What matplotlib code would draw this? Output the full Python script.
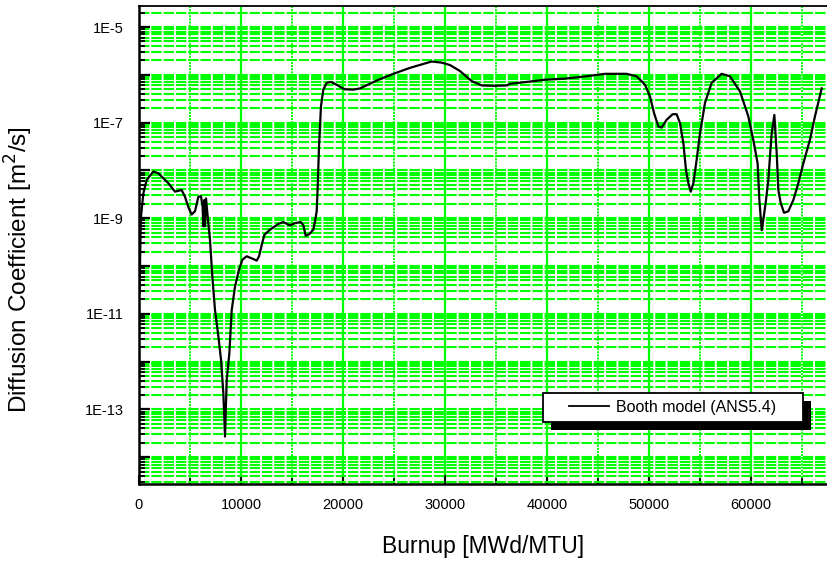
import matplotlib
matplotlib.use('Agg')
import matplotlib.pyplot as plt
from matplotlib.ticker import LogLocator, NullFormatter
from matplotlib.patches import Rectangle
import matplotlib.patheffects as pe

plt.rcParams['font.family'] = ['Liberation Sans', 'DejaVu Sans']

# ---- data ----
burnup = [50, 180, 425, 750, 1400, 1900, 2880, 3530, 4180, 4510, 4840, 5160, 5490,
          5820, 6080, 6240, 6310, 6400, 6470, 6570, 6730, 6960, 7190, 7450, 7780,
          8040, 8270, 8430, 8600, 8860, 9090, 9410, 9800, 10130, 10560, 11210,
          11540, 11770, 12030, 12290, 12840, 13660, 14150, 14800, 15290, 15850,
          16110, 16340, 16670, 17090, 17250, 17420, 17520, 17650, 17840, 18070,
          18400, 18820, 19380, 20130, 21010, 21670, 23300, 24940, 26570, 27710,
          28690, 29670, 30490, 31470, 32610, 33600, 34740, 36050, 36370, 38010,
          39800, 41700, 43800, 45690, 47800, 48790, 49610, 50100, 50490, 50920,
          51240, 51730, 52320, 52710, 53040, 53370, 53630, 53860, 54090, 54350,
          54670, 55000, 55490, 56140, 57120, 57940, 58920, 59740, 60290, 60650,
          60820, 61050, 61210, 61470, 61700, 61860, 62030, 62290, 62390, 62520,
          62680, 62910, 63240, 63660, 64150, 64640, 65130, 65780, 66270, 66930]
diffusion = [2.7e-11, 1.0e-9, 3.3e-9, 6.3e-9, 9.5e-9, 8.7e-9, 5.4e-9, 3.6e-9, 3.9e-9,
             2.8e-9, 1.7e-9, 1.2e-9, 1.4e-9, 2.8e-9, 2.9e-9, 1.7e-9, 6.8e-10, 2.4e-9,
             6.8e-10, 2.6e-9, 1.1e-9, 3.5e-10, 6.0e-11, 1.2e-11, 3.4e-12, 1.1e-12,
             2.2e-13, 2.7e-14, 4.2e-13, 1.5e-12, 1.2e-11, 3.7e-11, 8.3e-11, 1.35e-10,
             1.6e-10, 1.4e-10, 1.3e-10, 1.6e-10, 2.75e-10, 4.5e-10, 5.75e-10, 7.6e-10,
             8.3e-10, 7.1e-10, 7.9e-10, 8.3e-10, 7.2e-10, 4.3e-10, 4.6e-10, 5.75e-10,
             8.5e-10, 1.4e-9, 4.6e-9, 3.2e-8, 2.2e-7, 4.9e-7, 6.8e-7, 7.1e-7, 6.2e-7,
             5.0e-7, 4.9e-7, 5.2e-7, 7.6e-7, 1.05e-6, 1.4e-6, 1.65e-6, 1.9e-6, 1.8e-6,
             1.6e-6, 1.2e-6, 7.4e-7, 6.0e-7, 5.9e-7, 6.0e-7, 6.5e-7, 7.1e-7, 7.9e-7,
             8.3e-7, 9.3e-7, 1.05e-6, 1.05e-6, 9.3e-7, 6.2e-7, 3.5e-7, 1.6e-7, 8.3e-8,
             7.9e-8, 1.15e-7, 1.5e-7, 1.5e-7, 9.8e-8, 3.7e-8, 1.0e-8, 5.4e-9, 3.6e-9,
             5.4e-9, 1.65e-8, 6.0e-8, 2.6e-7, 6.8e-7, 1.05e-6, 9.3e-7, 4.5e-7, 1.35e-7,
             3.7e-8, 1.4e-8, 2.4e-9, 5.6e-10, 9.3e-10, 2.4e-9, 6.3e-9, 1.95e-8, 6.0e-8,
             1.45e-7, 6.5e-8, 2.3e-8, 3.9e-9, 2.1e-9, 1.3e-9, 1.4e-9, 2.4e-9, 5.4e-9,
             1.4e-8, 4.4e-8, 1.35e-7, 5.2e-7]

x_ticks = [0, 10000, 20000, 30000, 40000, 50000, 60000]
x_tick_labels = ['0', '10000', '20000', '30000', '40000', '50000', '60000']
y_major_exponents = [-14, -13, -12, -11, -10, -9, -8, -7, -6, -5]
y_tick_labels = ['', '1E-13', '', '1E-11', '', '1E-9', '', '1E-7', '', '1E-5']
series_label = 'Booth model (ANS5.4)'
x_label = 'Burnup [MWd/MTU]'
y_label = 'Diffusion Coefficient [m$^2$/s]'

# ---- figure ----
fig = plt.figure(figsize=(8.28, 5.68), dpi=100)
ax = fig.add_axes([139 / 828, 84 / 568, 714 / 828, 478 / 568])

green = '#00ff00'
line, = ax.plot(burnup, diffusion, color='black', lw=1.6, zorder=3)

ax.set_yscale('log')
ax.set_xlim(0, 70000)
ax.set_ylim(10 ** -14.56, 10 ** -4.56)

ax.set_xticks(x_ticks, labels=x_tick_labels)
ax.set_xticks(range(5000, 70000, 10000), minor=True)
ax.set_yticks([10.0 ** e for e in y_major_exponents], labels=y_tick_labels)
ax.yaxis.set_minor_locator(LogLocator(base=10, subs=range(2, 10), numticks=100))
ax.yaxis.set_minor_formatter(NullFormatter())

ax.set_axisbelow(True)
ax.yaxis.grid(True, which='both', color=green, linestyle=(0, (5, 0.9)), lw=1.5)
ax.xaxis.grid(True, which='major', color=green, linestyle='-', lw=1.6)
ax.xaxis.grid(True, which='minor', color=green, linestyle=(0, (1, 0.6)), lw=1.4)

ax.tick_params(axis='y', which='major', direction='in', length=8, width=1.6,
               labelsize=10.5, pad=11, left=True, right=False)
ax.tick_params(axis='y', which='minor', direction='in', length=4.5, width=1.3,
               left=True, right=False)
ax.tick_params(axis='x', which='major', direction='in', length=6.5, width=1.5,
               labelsize=10.5, pad=10, top=False)
ax.tick_params(axis='x', which='minor', direction='in', length=4, width=1.3, top=False)

for side, lw in (('left', 1.8), ('bottom', 1.8), ('top', 1.3)):
    ax.spines[side].set_linewidth(lw)
ax.spines['right'].set_visible(False)

ax.set_xlabel(x_label, fontsize=16.5)
ax.xaxis.set_label_coords(0.4825, -0.106)
ax.set_ylabel(y_label, fontsize=17.5)
ax.yaxis.set_label_coords(-0.1457, 0.448)

# legend frame with solid black drop shadow
frame = Rectangle((0.566, 0.130), 0.364, 0.060, transform=ax.transAxes,
                  facecolor='white', edgecolor='black', lw=1.3, zorder=4,
                  path_effects=[pe.SimplePatchShadow(offset=(5.8, -5.8),
                                                     shadow_rgbFace='black', alpha=1.0),
                                pe.Normal()])
ax.add_patch(frame)
leg = ax.legend(handles=[line], labels=[series_label], loc='center left',
                bbox_to_anchor=((569 - 139) / 714, 0.160), frameon=False,
                borderpad=0, borderaxespad=0, handlelength=2.5,
                handletextpad=0.45, fontsize=11.5)
leg.set_zorder(5)
for h in leg.get_lines():
    h.set_linewidth(1.3)

fig.savefig('out.png', dpi=100)
